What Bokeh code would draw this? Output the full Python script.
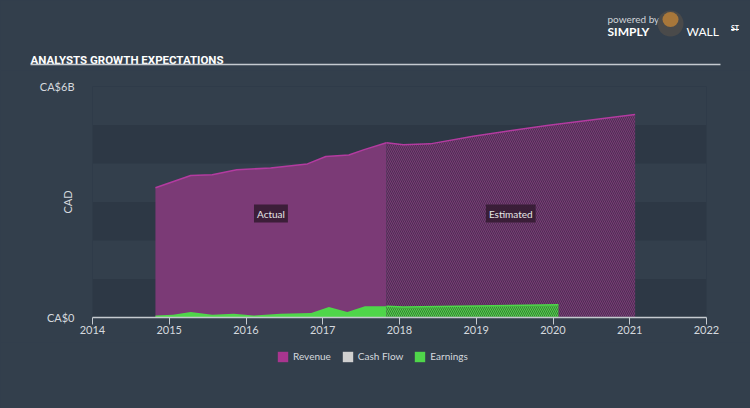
import math
from bokeh.plotting import figure
from bokeh.models import (ColumnDataSource, FixedTicker, Label, Legend, LegendItem, Range1d)
from bokeh.core.properties import value
from bokeh.embed import file_html
from bokeh.resources import INLINE

# ---------------- data ----------------
rev_act_t = [2014.82, 2015.28, 2015.56, 2015.88, 2016.32, 2016.80, 2017.04, 2017.34, 2017.54, 2017.83]
rev_act_v = [3.37, 3.69, 3.71, 3.84, 3.88, 3.99, 4.18, 4.22, 4.36, 4.54]
rev_est_t = [2017.83, 2018.05, 2018.40, 2018.96, 2019.92, 2021.07]
rev_est_v = [4.54, 4.49, 4.51, 4.71, 4.99, 5.27]
earn_act_t = [2014.82, 2015.05, 2015.28, 2015.56, 2015.84, 2016.10, 2016.45, 2016.85, 2017.08, 2017.32, 2017.55, 2017.83]
earn_act_v = [0.05, 0.07, 0.14, 0.07, 0.10, 0.05, 0.10, 0.12, 0.27, 0.14, 0.29, 0.29]
earn_est_t = [2017.83, 2018.05, 2019.0, 2020.07]
earn_est_v = [0.29, 0.27, 0.30, 0.33]
year_ticks = [2014, 2015, 2016, 2017, 2018, 2019, 2020, 2021, 2022]
y_ticks = [0, 6]
y_tick_labels = {0: "CA$0", 6: "CA$6B"}
band_ticks = [0, 1, 2, 3, 4, 5, 6]
legend_labels = ["Revenue", "Cash Flow", "Earnings"]

BG = "#333f4c"
BAND = "#2d3845"
REV_FILL = "#7b3a76"
REV_LINE = "#b33ba0"
REV_LEG = "#a9358f"
EARN = "#4fd64a"
CF = "#d0d0d0"
TXT = "#d5d9de"
FONT = "Lato"

HEAD_H = 70
FOOT_H = 66
MAIN_H = 408 - HEAD_H - FOOT_H


def blank(h):
    f = figure(width=750, height=h, x_range=Range1d(0, 750), y_range=Range1d(h, 0),
               x_axis_type=None, y_axis_type=None, output_backend="svg", toolbar_location=None,
               min_border=0)
    f.background_fill_color = BG
    f.border_fill_color = BG
    f.outline_line_color = None
    f.grid.visible = False
    f.styles = {"background-color": BG}
    return f


# ---------------- header ----------------
hdr = blank(HEAD_H)
hdr.text(x=[30], y=[59], text=["ANALYSTS GROWTH EXPECTATIONS"], text_color="#ffffff",
         text_font=value("Roboto"), text_font_style="bold", text_font_size="11.5px",
         text_baseline="alphabetic")
hdr.segment(x0=[30], y0=[64], x1=[720], y1=[64], line_color="#c5cad0", line_width=1.5)
hdr.text(x=[607], y=[18], text=["powered by"], text_color="#d0d4d8", text_font=value(FONT),
         text_font_size="10px", text_baseline="alphabetic")
hdr.text(x=[607], y=[30.5], text=["SIMPLY"], text_color="#ffffff", text_font=value(FONT),
         text_font_style="bold", text_font_size="12px", text_baseline="alphabetic")
hdr.circle(x=[670], y=[23], radius=13, fill_color="#4a4a4a", line_color=None)
hdr.ellipse(x=[670], y=[19], width=16, height=15, fill_color="#a8773a", line_color=None)
hdr.text(x=[686], y=[30.5], text=["WALL"], text_color="#ffffff", text_font=value(FONT),
         text_font_size="12px", text_baseline="alphabetic")
hdr.text(x=[730.5], y=[27], text=["ST"], text_color="#ffffff", text_font=value(FONT),
         text_font_style="bold", text_font_size="7px", text_baseline="alphabetic")
hdr.segment(x0=[730.5], y0=[29], x1=[738.5], y1=[29], line_color="#ffffff", line_width=1)

# ---------------- main chart ----------------
p = figure(width=750, height=MAIN_H, x_range=(2014, 2022), y_range=(0, 6),
           output_backend="svg", toolbar_location=None,
           min_border_left=92, min_border_right=44, min_border_top=16, min_border_bottom=25)
p.background_fill_color = BAND
p.border_fill_color = BG
p.outline_line_color = None
p.styles = {"background-color": BG}

p.xgrid.visible = False
p.ygrid.ticker = FixedTicker(ticks=band_ticks)
p.ygrid.grid_line_color = None
p.ygrid.band_fill_color = BG
p.ygrid.band_fill_alpha = 1.0

p.xaxis.ticker = FixedTicker(ticks=year_ticks)
p.xaxis.axis_line_color = "#c5cad0"
p.xaxis.axis_line_width = 1.5
p.xaxis.major_tick_line_color = "#c5cad0"
p.xaxis.major_tick_out = 7
p.xaxis.major_tick_in = 0
p.xaxis.minor_tick_line_color = None
p.xaxis.major_label_text_color = TXT
p.xaxis.major_label_text_font = FONT
p.xaxis.major_label_text_font_size = "11px"
p.xaxis.major_label_standoff = 1

p.yaxis.ticker = FixedTicker(ticks=y_ticks)
p.yaxis.major_label_overrides = y_tick_labels
p.yaxis.axis_line_color = None
p.yaxis.major_tick_line_color = None
p.yaxis.minor_tick_line_color = None
p.yaxis.major_label_text_color = TXT
p.yaxis.major_label_text_font = FONT
p.yaxis.major_label_text_font_size = "11px"
p.yaxis.major_label_standoff = 12
p.yaxis.axis_label = "CAD"
p.yaxis.axis_label_text_color = TXT
p.yaxis.axis_label_text_font = FONT
p.yaxis.axis_label_text_font_style = "normal"
p.yaxis.axis_label_text_font_size = "11px"
p.yaxis.axis_label_standoff = -37

ra = ColumnDataSource(dict(t=rev_act_t, v=rev_act_v, z=[0] * len(rev_act_t)))
re = ColumnDataSource(dict(t=rev_est_t, v=rev_est_v, z=[0] * len(rev_est_t)))
p.varea(x="t", y1="z", y2="v", source=ra, fill_color=REV_FILL)
p.varea(x="t", y1="z", y2="v", source=re, fill_color=REV_FILL,
        hatch_pattern="\\", hatch_color="#2b2a3a", hatch_scale=4, hatch_weight=1.0, hatch_alpha=0.6)
p.line(x="t", y="v", source=ra, line_color=REV_LINE, line_width=1.5)
p.line(x="t", y="v", source=re, line_color=REV_LINE, line_width=1.5)

ea = ColumnDataSource(dict(t=earn_act_t, v=earn_act_v, z=[0] * len(earn_act_t)))
ee = ColumnDataSource(dict(t=earn_est_t, v=earn_est_v, z=[0] * len(earn_est_t)))
p.varea(x="t", y1="z", y2="v", source=ea, fill_color=EARN)
p.varea(x="t", y1="z", y2="v", source=ee, fill_color=EARN,
        hatch_pattern="\\", hatch_color="#2b3a2a", hatch_scale=4, hatch_weight=1.0, hatch_alpha=0.6)
p.line(x="t", y="v", source=ee, line_color=EARN, line_width=1.5)

lab_y = 2.7
for txt, t0, t1 in [("Actual", rev_act_t[0], rev_act_t[-1]), ("Estimated", rev_est_t[0], rev_est_t[-1])]:
    p.add_layout(Label(x=(t0 + t1) / 2, y=lab_y, text=txt, text_align="center", text_baseline="middle",
                       text_color="#e6e6e6", text_font=FONT, text_font_size="10px",
                       background_fill_color="#351c33", background_fill_alpha=0.9, padding=3))

# ---------------- footer / legend ----------------
ftr = blank(FOOT_H)
items = []
for lab, col in zip(legend_labels, [REV_LEG, CF, EARN]):
    # invisible swatch renderers (zero-height areas outside the view) used only for legend glyphs
    r = ftr.varea(x=[-20, -10], y1=[0, 0], y2=[0, 0], fill_color=col)
    items.append(LegendItem(label=lab, renderers=[r]))
legend = Legend(items=items, orientation="horizontal", location=(276, FOOT_H - 20.5),
                background_fill_alpha=0, border_line_color=None, label_text_color=TXT,
                label_text_font=FONT, label_text_font_size="10px", glyph_width=13, glyph_height=13,
                label_standoff=4, spacing=10, padding=0, margin=0, label_height=13)
ftr.add_layout(legend)

open("out.html", "w").write(file_html([hdr, p, ftr], INLINE))
